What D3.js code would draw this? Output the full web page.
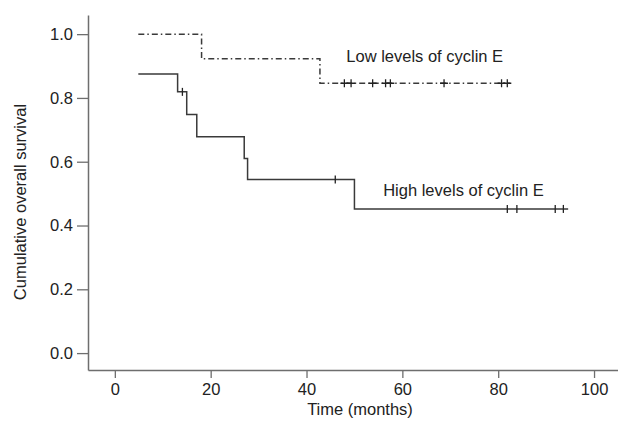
<!DOCTYPE html>
<html>
<head>
<meta charset="utf-8">
<script src="https://d3js.org/d3.v7.min.js"></script>
<style>
  body { margin: 0; background: #fff; }
  text { font-family: "Liberation Sans", Arial, Helvetica, sans-serif; }
</style>
</head>
<body>
<div id="chart"></div>
<script>
// Kaplan-Meier step data (months, survival)
var lowTimes = [4.9, 18.1, 42.8];
var lowSurv = [1.0, 0.923, 0.846];
var lowEnd = 82.5;
var lowCensor = [47.9, 49.3, 53.8, 56.5, 57.5, 68.7, 80.7, 81.9];

var highTimes = [4.9, 13.1, 15.0, 17.1, 27.0, 27.7, 50.0];
var highSurv = [0.875, 0.819, 0.748, 0.678, 0.610, 0.544, 0.452];
var highEnd = 94.6;
var highCensor = [14.1, 46.0, 81.9, 83.9, 91.9, 93.6];

var xTicks = [0, 20, 40, 60, 80, 100];
var yTicks = [0, 0.2, 0.4, 0.6, 0.8, 1.0];

var width = 618, height = 425;
var axisColor = "#6e6e6e", lineColor = "#3a3a3a";
var fontSize = "16.5px";

var svg = d3.select("#chart")
    .append("svg")
    .attr("width", width)
    .attr("height", height);

var x = d3.scaleLinear()
    .domain([-5.6, 105])
    .range([88, 618]);

var y = d3.scaleLinear()
    .domain([-0.053, 1.06])
    .range([370, 15]);

// X axis
var gx = svg.append("g")
    .attr("transform", "translate(0," + y.range()[0] + ")")
    .call(d3.axisBottom(x).tickValues(xTicks).tickSize(8).tickSizeOuter(0).tickPadding(5)
        .tickFormat(d3.format("d")));
gx.select(".domain").attr("stroke", axisColor).attr("stroke-width", 1.5);
gx.selectAll(".tick line").attr("stroke", axisColor).attr("stroke-width", 1.3);
gx.selectAll(".tick text").attr("fill", "#222").style("font-size", fontSize);

// Y axis
var gy = svg.append("g")
    .attr("transform", "translate(" + x.range()[0] + ",0)")
    .call(d3.axisLeft(y).tickValues(yTicks).tickSize(11).tickSizeOuter(0).tickPadding(4)
        .tickFormat(d3.format(".1f")));
gy.select(".domain").attr("stroke", axisColor).attr("stroke-width", 1.5);
gy.selectAll(".tick line").attr("stroke", axisColor).attr("stroke-width", 1.3);
gy.selectAll(".tick text").attr("fill", "#222").style("font-size", fontSize);

// axis titles
svg.append("text")
    .attr("x", 360)
    .attr("y", 415)
    .attr("text-anchor", "middle")
    .attr("fill", "#222")
    .style("font-size", fontSize)
    .text("Time (months)");

svg.append("text")
    .attr("transform", "translate(26,202)rotate(-90)")
    .attr("text-anchor", "middle")
    .attr("fill", "#222")
    .style("font-size", fontSize)
    .text("Cumulative overall survival");

// build step points
function steps(times, surv, end) {
    var pts = [];
    times.forEach(function(t, i) {
        if (i > 0) pts.push([t, surv[i - 1]]);
        pts.push([t, surv[i]]);
    });
    pts.push([end, surv[surv.length - 1]]);
    return pts;
}

function survAt(times, surv, t) {
    var s = surv[0];
    times.forEach(function(tt, i) { if (tt <= t) s = surv[i]; });
    return s;
}

var line = d3.line()
    .x(function(d) { return x(d[0]); })
    .y(function(d) { return y(d[1]); });

// low levels curve (dash-dot)
svg.append("path")
    .datum(steps(lowTimes, lowSurv, lowEnd))
    .attr("d", line)
    .attr("fill", "none")
    .attr("stroke", lineColor)
    .attr("stroke-width", 1.5)
    .attr("stroke-dasharray", "6,3,1.5,3");

// high levels curve (solid)
svg.append("path")
    .datum(steps(highTimes, highSurv, highEnd))
    .attr("d", line)
    .attr("fill", "none")
    .attr("stroke", lineColor)
    .attr("stroke-width", 1.5);

// censor marks
svg.selectAll("lowCensor")
    .data(lowCensor)
    .enter()
    .append("line")
    .attr("x1", function(d) { return x(d); })
    .attr("x2", function(d) { return x(d); })
    .attr("y1", function(d) { return y(survAt(lowTimes, lowSurv, d)) - 4; })
    .attr("y2", function(d) { return y(survAt(lowTimes, lowSurv, d)) + 4; })
    .attr("stroke", "#222")
    .attr("stroke-width", 1.3);

svg.selectAll("lowCensorH")
    .data(lowCensor)
    .enter()
    .append("line")
    .attr("x1", function(d) { return x(d) - 4; })
    .attr("x2", function(d) { return x(d) + 4; })
    .attr("y1", function(d) { return y(survAt(lowTimes, lowSurv, d)); })
    .attr("y2", function(d) { return y(survAt(lowTimes, lowSurv, d)); })
    .attr("stroke", "#222")
    .attr("stroke-width", 1.5);

svg.selectAll("highCensor")
    .data(highCensor)
    .enter()
    .append("line")
    .attr("x1", function(d) { return x(d); })
    .attr("x2", function(d) { return x(d); })
    .attr("y1", function(d) { return y(survAt(highTimes, highSurv, d)) - 4; })
    .attr("y2", function(d) { return y(survAt(highTimes, highSurv, d)) + 4; })
    .attr("stroke", "#222")
    .attr("stroke-width", 1.3);

// curve labels
svg.append("text")
    .attr("x", x(48.3))
    .attr("y", y(0.913))
    .attr("fill", "#222")
    .style("font-size", fontSize)
    .text("Low levels of cyclin E");

svg.append("text")
    .attr("x", x(56))
    .attr("y", y(0.493))
    .attr("fill", "#222")
    .style("font-size", fontSize)
    .text("High levels of cyclin E");
</script>
</body>
</html>
